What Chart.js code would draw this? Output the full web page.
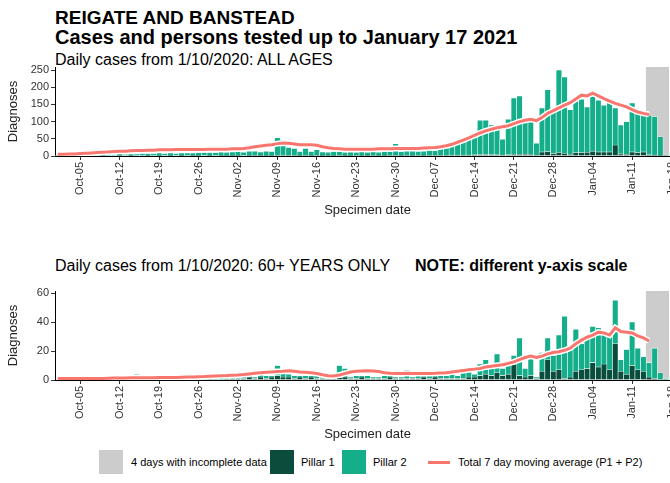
<!DOCTYPE html>
<html lang="en">
<head>
<meta charset="UTF-8" />
<title>Reigate and Banstead - cases</title>
<script src="https://cdn.jsdelivr.net/npm/chart.js@4.4.0/dist/chart.umd.min.js"></script>
<style>
  html, body { margin: 0; padding: 0; background: #fff; overflow: hidden; }
  body { width: 670px; height: 483px; position: relative; font-family: "Liberation Sans", Arial, sans-serif; color: #000; }
  .title { position: absolute; left: 55px; font-weight: bold; line-height: 20px; white-space: nowrap; }
  .sub { position: absolute; left: 55px; font-size: 16px; line-height: 18px; white-space: nowrap; }
  .note { position: absolute; left: 415px; font-size: 16px; line-height: 18px; font-weight: bold; white-space: nowrap; }
  canvas { position: absolute; left: 0; }
  .sw { position: absolute; top: 450px; width: 24px; height: 24px; }
  .ln { position: absolute; top: 461px; width: 22px; height: 3px; background: #f8766d; }
  .lt { position: absolute; top: 455px; font-size: 11px; line-height: 14px; white-space: nowrap; color: #000; }
</style>
</head>
<body>
  <div class="title" style="top:8px;font-size:19px">REIGATE AND BANSTEAD</div>
  <div class="title" style="top:27px;font-size:20px">Cases and persons tested up to January 17 2021</div>
  <div class="sub" style="top:51px">Daily cases from 1/10/2020: ALL AGES</div>
  <canvas id="allChart" width="680" height="160" style="top:62px"></canvas>
  <div class="sub" style="top:257px">Daily cases from 1/10/2020: 60+ YEARS ONLY</div>
  <div class="note" style="top:257px">NOTE: different y-axis scale</div>
  <canvas id="oldChart" width="680" height="160" style="top:286px"></canvas>

  <span class="sw" style="left:99px;background:#cccccc"></span>
  <span class="lt" style="left:131px">4 days with incomplete data</span>
  <span class="sw" style="left:270px;background:#0b4d3d"></span>
  <span class="lt" style="left:301px">Pillar 1</span>
  <span class="sw" style="left:342px;background:#14ae8b"></span>
  <span class="lt" style="left:373px">Pillar 2</span>
  <span class="ln" style="left:428px"></span>
  <span class="lt" style="left:458px">Total 7 day moving average (P1 + P2)</span>

<script>
  // day 0 = 1 Oct 2020, last day = 17 Jan 2021
  const tickDays = [4, 11, 18, 25, 32, 39, 46, 53, 60, 67, 74, 81, 88, 95, 102, 109];
  const tickLabels = ["Oct-05", "Oct-12", "Oct-19", "Oct-26", "Nov-02", "Nov-09", "Nov-16", "Nov-23",
    "Nov-30", "Dec-07", "Dec-14", "Dec-21", "Dec-28", "Jan-04", "Jan-11", "Jan-18"];
  const incompleteDays = [105, 106, 107, 108];

  // all ages
  const allP2 = [
    2, 3, 2, 3, 4, 3, 4, 5, 4, 5,
    4, 6, 5, 5, 6, 7, 6, 7, 8, 7,
    8, 7, 8, 9, 8, 9, 10, 9, 10, 11, 10,
    11, 12, 11, 13, 12, 11, 13, 12, 50, 44,
    23, 20, 12, 20, 12, 16, 11, 10, 12, 11,
    10, 11, 9, 12, 10, 11, 10, 12, 11, 34,
    12, 13, 14, 12, 13, 15, 14, 32, 28, 38,
    42, 50, 52, 60, 100, 100, 86, 76, 46, 103,
    164, 170, 106, 105, 34, 128, 180, 128, 240, 222, 130,
    150, 155, 132, 160, 150, 136, 150, 108, 84, 95,
    142, 114, 112, 115, 112, 55, 3
  ];
  const allP1 = [
    0, 0, 1, 0, 0, 1, 0, 0, 1, 0,
    0, 1, 0, 1, 0, 0, 1, 0, 1, 0,
    1, 0, 1, 0, 1, 1, 0, 1, 0, 1, 1,
    1, 1, 0, 1, 2, 1, 1, 1, 3, 3,
    2, 2, 1, 2, 1, 2, 1, 1, 1, 2,
    1, 1, 2, 1, 1, 2, 1, 1, 2, 2,
    1, 2, 1, 2, 1, 2, 2, 2, 2, 3,
    3, 3, 3, 4, 4, 4, 4, 4, 3, 4,
    5, 5, 5, 5, 3, 12, 13, 7, 10, 8, 5,
    10, 10, 11, 14, 12, 12, 12, 32, 6, 5,
    12, 10, 12, 4, 3, 1, 0
  ];
  const allAvg = [
    5, 5, 6, 6, 7, 8, 9, 10, 11, 12,
    13, 14, 14, 15, 16, 16, 17, 17, 18, 18,
    18, 19, 19, 19, 19, 19, 19, 20, 20, 20, 20,
    21, 21, 22, 24, 27, 29, 31, 33, 36, 38,
    37, 35, 33, 33, 33, 31, 27, 24, 22, 21,
    20, 20, 20, 20, 20, 20, 21, 21, 21, 22,
    22, 22, 22, 22, 23, 24, 25, 27, 30, 34,
    40, 46, 53, 60, 67, 73, 78, 82, 85, 88,
    94, 100, 104, 107, 103, 112, 124, 132, 140, 148, 155,
    166, 177, 175, 183, 175, 167, 160, 153, 148, 143,
    135, 128, 124, 121
  ];

  // 60+ years
  const oldP2 = [
    0, 1, 2, 0, 2, 1, 0, 1, 0, 1,
    1, 0, 1, 0, 4, 1, 0, 1, 1, 0,
    1, 1, 0, 1, 1, 2, 1, 1, 2, 4, 1,
    1, 4, 2, 2, 1, 2, 2, 1, 7, 3,
    2, 2, 1, 2, 1, 2, 1, 0, 1, 8,
    6, 1, 2, 1, 2, 1, 1, 2, 1, 1,
    1, 6, 1, 2, 1, 2, 1, 2, 2, 3,
    2, 5, 5, 2, 8, 10, 7, 13, 5, 9,
    6, 26, 6, 14, 1, 13, 15, 11, 24, 43, 20,
    29, 18, 22, 25, 27, 22, 24, 30, 8, 17,
    30, 15, 10, 10, 21, 5, 1
  ];
  const oldP1 = [
    0, 0, 0, 0, 0, 0, 1, 0, 0, 0,
    0, 0, 0, 1, 0, 0, 0, 0, 0, 1,
    0, 0, 1, 0, 0, 0, 0, 1, 0, 0, 1,
    1, 1, 1, 2, 1, 2, 1, 2, 3, 2,
    2, 1, 2, 1, 2, 1, 1, 1, 1, 2,
    2, 1, 1, 2, 1, 1, 1, 1, 2, 1,
    1, 1, 1, 1, 2, 1, 2, 1, 1, 1,
    1, 1, 2, 2, 3, 4, 3, 5, 3, 4,
    11, 3, 2, 3, 1, 6, 14, 6, 7, 1, 2,
    6, 7, 8, 12, 9, 11, 7, 25, 6, 4,
    10, 7, 6, 2, 1, 0, 0
  ];
  const oldAvg = [
    1, 1, 1, 1, 1, 1, 1, 1, 1, 1.2,
    1.3, 1.3, 1.4, 1.5, 1.5, 1.6, 1.6, 1.6, 1.7, 1.7,
    1.8, 1.8, 1.9, 2, 2.1, 2.3, 2.4, 2.6, 2.8, 3, 3.1,
    3.3, 3.5, 3.8, 4.2, 4.6, 5, 5.3, 5.6, 5.8, 6,
    6.3, 6, 5.6, 5.3, 5, 4.5, 3.6, 3, 2.8, 3.4,
    4.5, 5.5, 6, 6.2, 6.3, 6.2, 5.8, 5, 4.6, 4.5,
    4.5, 4.6, 4.5, 4.4, 4.5, 4.5, 4.6, 4.8, 5, 5.5,
    6, 6.5, 7, 7.5, 8, 9, 9.5, 10, 10.5, 11.5,
    12.5, 14, 15.5, 16.5, 15.5, 16.5, 18, 19, 19.5, 20.5, 22,
    25, 27.5, 29.5, 31, 33, 32.5, 31, 36, 33.5, 33,
    32.5, 30.5, 29, 27
  ];

  const fontFamily = '"Liberation Sans", Arial, sans-serif';
  Chart.defaults.font.family = fontFamily;

  const points = (arr) => arr.map((v, i) => ({ x: i, y: v }));

  function makeChart(id, p1, p2, avg, yMax, yStep) {
    const barBase = {
      type: "bar",
      stack: "cases",
      barPercentage: 1,
      categoryPercentage: 1,
      borderColor: "#ffffff",
      borderWidth: 0.6,
      order: 5,
    };
    return new Chart(document.getElementById(id), {
      type: "bar",
      data: {
        datasets: [
          {
            label: "4 days with incomplete data",
            type: "bar",
            data: incompleteDays.map((d) => ({ x: d, y: yMax })),
            backgroundColor: "#cccccc",
            borderWidth: 0,
            stack: "bg",
            grouped: false,
            barPercentage: 1,
            categoryPercentage: 1,
            order: 10,
          },
          Object.assign({}, barBase, { label: "Pillar 1", data: points(p1), backgroundColor: "#0b4d3d" }),
          Object.assign({}, barBase, { label: "Pillar 2", data: points(p2), backgroundColor: "#14ae8b" }),
          {
            // white halo under the average line
            type: "line",
            data: points(avg),
            borderColor: "#ffffff",
            borderWidth: 6,
            pointRadius: 0,
            stack: "halo",
            order: 2,
          },
          {
            label: "Total 7 day moving average (P1 + P2)",
            type: "line",
            data: points(avg),
            borderColor: "#f8766d",
            borderWidth: 3,
            pointRadius: 0,
            stack: "avg",
            order: 1,
          },
        ],
      },
      options: {
        responsive: false,
        animation: false,
        layout: { padding: { top: 5, right: 0, bottom: 0, left: 0 } },
        plugins: { legend: { display: false }, tooltip: { enabled: false } },
        scales: {
          x: {
            type: "linear",
            min: -0.5,
            max: 110.5,
            stacked: true,
            offset: false,
            afterBuildTicks: (s) => { s.ticks = tickDays.map((v) => ({ value: v })); },
            afterFit: (s) => { s.height = 66; s.paddingLeft = 0; s.paddingRight = 0; },
            ticks: {
              autoSkip: false,
              minRotation: 90,
              maxRotation: 90,
              padding: 2,
              color: "#333",
              font: { size: 11 },
              callback: (v, i) => tickLabels[i],
            },
            grid: { drawOnChartArea: false, offset: false, tickLength: 4, color: "#333" },
            border: { color: "#000", width: 1 },
            title: { display: true, text: "Specimen date", color: "#222", font: { size: 13 }, padding: { top: 2, bottom: 4 } },
          },
          y: {
            stacked: true,
            min: 0,
            max: yMax,
            afterFit: (s) => { s.width = 55; s.paddingTop = 0; s.paddingBottom = 0; },
            ticks: { stepSize: yStep, includeBounds: false, padding: 2, color: "#333", font: { size: 11 } },
            grid: { drawOnChartArea: false, tickLength: 4, color: "#333" },
            border: { color: "#000", width: 1 },
            title: { display: true, text: "Diagnoses", color: "#222", font: { size: 13 }, padding: { top: 6, bottom: 2 } },
          },
        },
      },
    });
  }

  makeChart("allChart", allP1, allP2, allAvg, 259, 50);
  makeChart("oldChart", oldP1, oldP2, oldAvg, 61.4, 10);
</script>
</body>
</html>
